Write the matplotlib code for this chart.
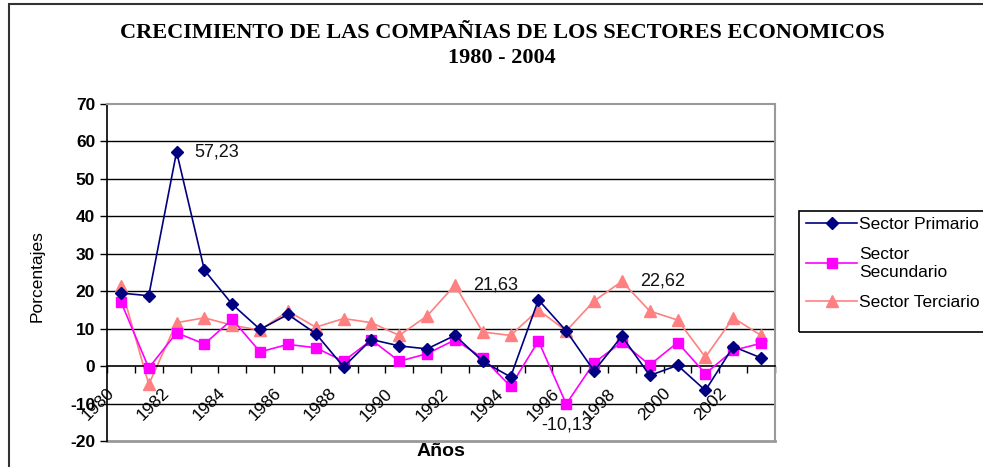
import numpy as np
import matplotlib.pyplot as plt
import matplotlib.transforms as mtransforms
from matplotlib.patches import Rectangle

plt.rcParams['font.family'] = ['Liberation Sans', 'DejaVu Sans']
plt.rcParams['axes.unicode_minus'] = False

anios = list(range(1980, 2004))
primario = [19.5, 18.8, 57.23, 25.6, 16.5, 9.8, 13.8, 8.7, -0.2, 7.1, 5.4, 4.6, 8.2,
            1.3, -2.9, 17.7, 9.4, -1.3, 8.0, -2.5, 0.2, -6.5, 5.2, 2.2]
secundario = [17.2, -0.5, 8.9, 5.9, 12.5, 3.8, 5.8, 4.9, 1.3, 7.0, 1.3, 3.3, 7.0,
              2.2, -5.4, 6.7, -10.13, 0.9, 6.4, 0.3, 6.3, -2.0, 4.2, 6.1]
terciario = [21.3, -4.9, 11.6, 12.9, 10.9, 9.6, 14.7, 10.4, 12.7, 11.6, 8.2, 13.4, 21.63,
             9.1, 8.2, 15.0, 9.4, 17.4, 22.62, 14.7, 12.3, 2.4, 12.9, 8.2]

etiquetas = [(2, 57.23, '57,23'), (12, 21.63, '21,63'), (18, 22.62, '22,62')]

W, H = 983, 467
fig = plt.figure(figsize=(W / 100, H / 100), dpi=100)
ax = fig.add_axes([107 / W, 1 - 441 / H, (775 - 107) / W, (441 - 104) / H])

x = np.arange(len(anios))

ax.plot(x, primario, color='#000080', marker='D', markersize=6, lw=1.2,
        label='Sector Primario', zorder=4)
ax.plot(x, secundario, color='#FF00FF', marker='s', markersize=7, lw=1.2,
        label='Sector\nSecundario', zorder=3)
ax.plot(x, terciario, color='#FF8080', marker='^', markersize=8, lw=1.2,
        label='Sector Terciario', zorder=2)

for i, v, t in etiquetas:
    ax.annotate(t, (i, v), xytext=(13, 0), textcoords='offset points',
                fontsize=13, va='center', ha='left', color='#111111')
ax.annotate('-10,13', (16, -10.13), xytext=(0, -15), textcoords='offset points',
            fontsize=13, va='center', ha='center', color='#111111')

ax.set_xlim(-0.5, len(anios) - 0.5)
ax.set_ylim(-20, 70)
ax.set_yticks(np.arange(-20, 71, 10))
ax.tick_params(axis='y', direction='out', length=5, width=1, labelsize=12.5)
for lb in ax.get_yticklabels():
    lb.set_fontweight('bold')

for g in range(-10, 61, 10):
    if g != 0:
        ax.axhline(g, color='black', lw=1, zorder=1)

# eje de categorias cruzando en 0
ax.spines['bottom'].set_position(('data', 0))
ax.spines['bottom'].set_linewidth(1.2)
ax.spines['left'].set_linewidth(1.2)
for s in ['top', 'right']:
    ax.spines[s].set_color('#999999')
    ax.spines[s].set_linewidth(1.5)
ax.axhline(-20, color='#999999', lw=2, zorder=1, clip_on=False)

ax.set_xticks(np.arange(-0.5, len(anios), 1), minor=True)
ax.set_xticks(x[::2])
ax.set_xticklabels([str(a) for a in anios[::2]], rotation=45, ha='right', va='top',
                   fontsize=12.5)
ax.tick_params(axis='x', which='major', length=0, pad=14)
ax.tick_params(axis='x', which='minor', direction='out', length=5, width=1)
off = mtransforms.ScaledTranslation(-3 / 72, 0, fig.dpi_scale_trans)
for lb in ax.get_xticklabels():
    lb.set_transform(lb.get_transform() + off)

fig.text(37 / W, 1 - 276 / H, 'Porcentajes', rotation=90, fontsize=12.5,
         ha='center', va='center')
fig.text(441 / W, 1 - 452 / H, 'Años', fontsize=14, fontweight='bold',
         ha='center', va='center')

fig.text(502 / W, 1 - 33 / H, 'CRECIMIENTO DE LAS COMPAÑIAS DE LOS SECTORES ECONOMICOS',
         family='Liberation Serif', fontweight='bold', fontsize=16, ha='center', va='center')
fig.text(502 / W, 1 - 58 / H, '1980 - 2004',
         family='Liberation Serif', fontweight='bold', fontsize=16, ha='center', va='center')

# leyenda (marco dibujado aparte, sale por el borde derecho)
leg = fig.legend(loc='upper left', bbox_to_anchor=(803 / W, 1 - 213 / H), fontsize=12.5,
                 handlelength=2.9, labelspacing=0.9, borderpad=0.2, frameon=False,
                 handletextpad=0.15, borderaxespad=0)
fig.patches.append(Rectangle((799 / W, 1 - 332 / H), 220 / W, 121 / H,
                             transform=fig.transFigure, fill=False,
                             edgecolor='black', lw=1.2))

fig.patches.append(Rectangle((9 / W, -0.1), 1.2, 1 - 4 / H + 0.1, transform=fig.transFigure,
                             fill=False, edgecolor='#333333', lw=1.5))

fig.savefig('out.png', dpi=100)
